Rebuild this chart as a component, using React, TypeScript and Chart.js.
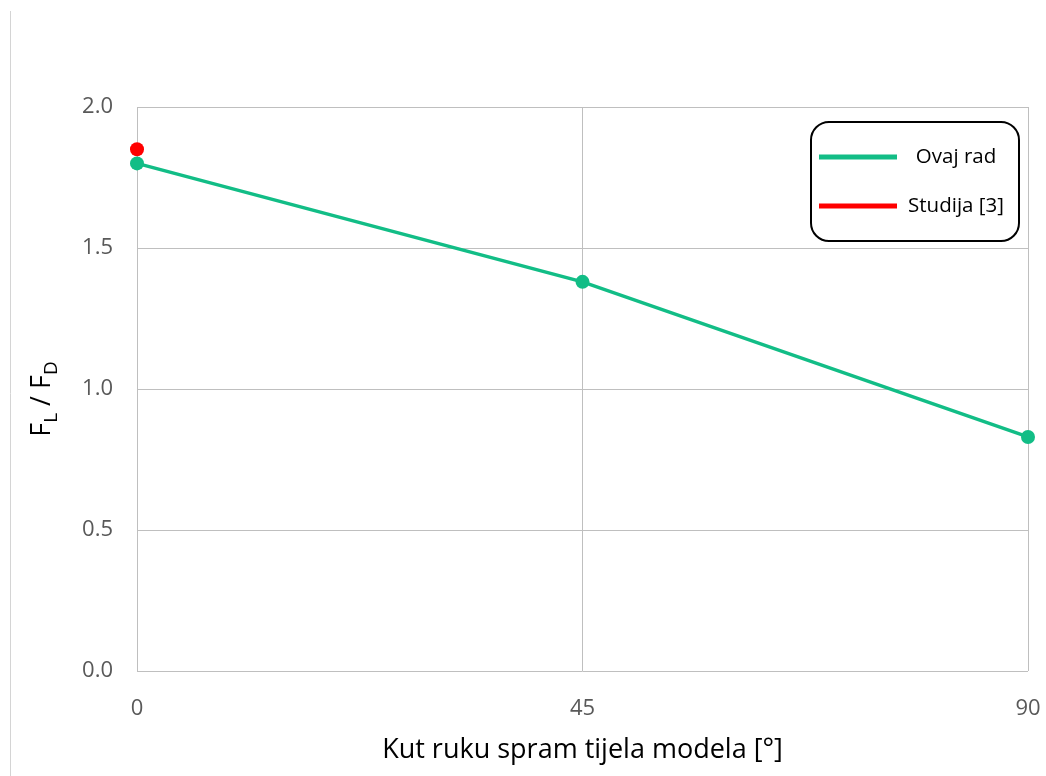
import React, { useEffect, useRef } from "react";
import { Chart, registerables } from "chart.js";

Chart.register(...registerables);

const angles = [0, 45, 90];
const ovajRad = [1.80, 1.38, 0.83];
const studijaAngles = [0];
const studija = [1.85];
const seriesNames = ["Ovaj rad", "Studija [3]"];
const seriesColors = ["#12BD86", "#FF0000"];
const xTicks = [0, 45, 90];
const yTicks = [0, 0.5, 1.0, 1.5, 2.0];
const xTitle = "Kut ruku spram tijela modela [°]";

const FONT = "'Open Sans', 'Noto Sans', sans-serif";

const decorPlugin = {
  id: "decor",
  beforeDraw(chart: any) {
    const ctx = chart.ctx;
    ctx.save();
    ctx.fillStyle = "#ffffff";
    ctx.fillRect(0, 0, chart.width, chart.height);
    ctx.strokeStyle = "#d4d4d4";
    ctx.lineWidth = 1;
    ctx.beginPath();
    ctx.moveTo(10.5, 11);
    ctx.lineTo(10.5, chart.height);
    ctx.stroke();
    ctx.restore();
  },
  afterDraw(chart: any) {
    const ctx = chart.ctx;
    ctx.save();
    // y axis title with subscripts
    ctx.translate(40, 399);
    ctx.rotate(-Math.PI / 2);
    ctx.fillStyle = "#000000";
    ctx.textBaseline = "alphabetic";
    const big = `27px ${FONT}`;
    const small = `19px ${FONT}`;
    const parts: [string, string, number][] = [
      ["F", big, 0],
      ["L", small, 7],
      [" / ", big, 0],
      ["F", big, 0],
      ["D", small, 7],
    ];
    let total = 0;
    for (const [t, f] of parts) {
      ctx.font = f;
      total += ctx.measureText(t).width;
    }
    let x = -total / 2;
    for (const [t, f, dy] of parts) {
      ctx.font = f;
      ctx.fillText(t, x, 10 + dy);
      x += ctx.measureText(t).width;
    }
    ctx.restore();

    // legend box
    ctx.save();
    const bx = 811, by = 122, bw = 208, bh = 119, r = 18;
    ctx.beginPath();
    ctx.roundRect(bx, by, bw, bh, r);
    ctx.fillStyle = "#ffffff";
    ctx.fill();
    ctx.lineWidth = 2;
    ctx.strokeStyle = "#000000";
    ctx.stroke();
    const rows = [157, 206];
    ctx.font = `20.5px ${FONT}`;
    ctx.textAlign = "center";
    ctx.textBaseline = "middle";
    for (let i = 0; i < seriesNames.length; i++) {
      ctx.strokeStyle = seriesColors[i];
      ctx.lineWidth = 5;
      ctx.beginPath();
      ctx.moveTo(819, rows[i]);
      ctx.lineTo(897, rows[i]);
      ctx.stroke();
      ctx.fillStyle = "#000000";
      ctx.fillText(seriesNames[i], 956, rows[i]);
    }
    ctx.restore();
  },
};

export default function App() {
  const ref = useRef<HTMLCanvasElement>(null);
  useEffect(() => {
    document.body.style.margin = "0";
    const chart = new Chart(ref.current!, {
      type: "line",
      data: {
        datasets: [
          {
            label: seriesNames[0],
            data: angles.map((a, i) => ({ x: a, y: ovajRad[i] })),
            borderColor: seriesColors[0],
            backgroundColor: seriesColors[0],
            borderWidth: 3.5,
            pointRadius: 7,
            pointHoverRadius: 7,
            pointBorderWidth: 0,
            clip: false,
          },
          {
            label: seriesNames[1],
            data: studijaAngles.map((a, i) => ({ x: a, y: studija[i] })),
            borderColor: seriesColors[1],
            backgroundColor: seriesColors[1],
            borderWidth: 3.5,
            pointRadius: 7,
            pointHoverRadius: 7,
            pointBorderWidth: 0,
            clip: false,
          },
        ],
      },
      options: {
        animation: false,
        responsive: false,
        devicePixelRatio: 1,
        layout: { padding: { top: 107, right: 18, left: 0, bottom: 0 } },
        plugins: { legend: { display: false }, tooltip: { enabled: false } },
        scales: {
          x: {
            type: "linear",
            min: 0,
            max: 90,
            afterBuildTicks: (s: any) => {
              s.ticks = xTicks.map((v) => ({ value: v }));
            },
            afterFit: (s: any) => {
              s.height = 105;
              s.paddingRight = 0;
              s.paddingLeft = 0;
            },
            ticks: {
              color: "#595959",
              font: { family: FONT, size: 22 },
              padding: 25,
            },
            grid: { color: "#bfbfbf", lineWidth: 1, drawTicks: false },
            border: { display: false },
            title: {
              display: true,
              text: xTitle,
              color: "#000000",
              font: { family: FONT, size: 27 },
              padding: { top: 0, bottom: 9 },
            },
          },
          y: {
            type: "linear",
            min: 0,
            max: 2,
            afterBuildTicks: (s: any) => {
              s.ticks = yTicks.map((v) => ({ value: v }));
            },
            afterFit: (s: any) => {
              s.width = 137;
              s.paddingTop = 0;
              s.paddingBottom = 0;
            },
            ticks: {
              color: "#595959",
              font: { family: FONT, size: 22 },
              padding: 24,
              callback: (v: any) => Number(v).toFixed(1),
            },
            grid: { color: "#bfbfbf", lineWidth: 1, drawTicks: false },
            border: { display: false },
          },
        },
      },
      plugins: [decorPlugin],
    });
    return () => chart.destroy();
  }, []);
  return (
    <div style={{ width: 1046, height: 776 }}>
      <canvas ref={ref} width={1046} height={776} style={{ display: "block" }} />
    </div>
  );
}
